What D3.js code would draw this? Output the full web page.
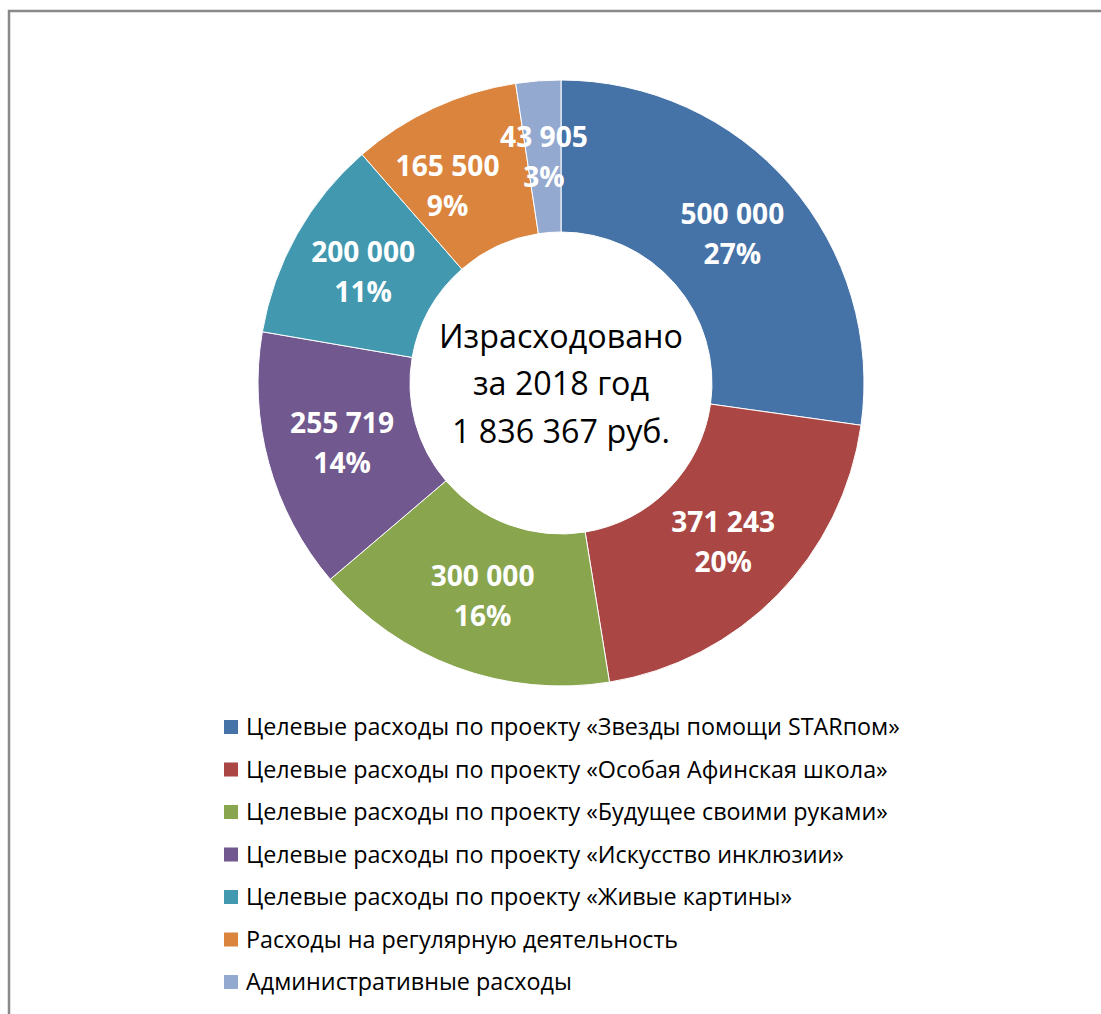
<!DOCTYPE html>
<html><head><meta charset="utf-8">
<script src="https://cdn.jsdelivr.net/npm/d3@7"></script>
<style>body{margin:0;background:#fff}svg{display:block}</style>
</head><body>
<svg id="c" width="1101" height="1014"></svg>
<script>
const categories = [
  "Целевые расходы по проекту «Звезды помощи STARпом»",
  "Целевые расходы по проекту «Особая Афинская школа»",
  "Целевые расходы по проекту «Будущее своими руками»",
  "Целевые расходы по проекту «Искусство инклюзии»",
  "Целевые расходы по проекту «Живые картины»",
  "Расходы на регулярную деятельность",
  "Административные расходы"
];
const values = [500000, 371243, 300000, 255719, 200000, 165500, 43905];
const valueLabels = ["500 000","371 243","300 000","255 719","200 000","165 500","43 905"];
const percentLabels = ["27%","20%","16%","14%","11%","9%","3%"];
const colors = ["#4572A7","#AA4643","#89A54E","#71588F","#4198AF","#DB843D","#93A9CF"];
const centerLines = ["Израсходовано","за 2018 год","1 836 367 руб."];

const svg = d3.select("#c");
const font = "'Open Sans', 'Noto Sans', sans-serif";

svg.append("rect").attr("x",9).attr("y",11).attr("width",1200).attr("height",1200)
  .attr("fill","#fff").attr("stroke","#898989").attr("stroke-width",2.5);

const cx = 561, cy = 383, rOuter = 303, rInner = 151;
const g = svg.append("g").attr("transform",`translate(${cx},${cy})`);
const pie = d3.pie().sort(null).value(d=>d)(values);
const arc = d3.arc().innerRadius(rInner).outerRadius(rOuter);
g.selectAll("path").data(pie).join("path")
  .attr("d",arc).attr("fill",(d,i)=>colors[i])
  .attr("stroke","#fff").attr("stroke-width",1);

const rMid = (rInner+rOuter)/2;
const labels = g.selectAll("g.lab").data(pie).join("g").attr("class","lab");
labels.append("text").attr("class","v").attr("text-anchor","middle").attr("y",-20)
  .attr("dy","0.35em").attr("font-family",font).attr("font-weight","bold")
  .attr("font-size",22).attr("fill","#fff").text((d,i)=>valueLabels[i]);
labels.append("text").attr("class","p").attr("text-anchor","middle").attr("y",20)
  .attr("dy","0.35em").attr("font-family",font).attr("font-weight","bold")
  .attr("font-size",22).attr("fill","#fff").text((d,i)=>percentLabels[i]);
{
  const t = labels.select("text.v").filter((d,i)=>i===0);
  const w = t.node().getComputedTextLength();
  const fs = 22*104/w;
  labels.selectAll("text").attr("font-size",fs);
}
// label placement with simple collision avoidance
const lab = pie.map((d,i)=>{
  const node = labels.nodes()[i];
  const bb = node.getBBox();
  return {a:(d.startAngle+d.endAngle)/2, w:bb.width, h:bb.height};
});
function pos(l){return [rMid*Math.sin(l.a), -rMid*Math.cos(l.a)];}
function overlap(l1,l2){
  const p1=pos(l1), p2=pos(l2);
  return Math.abs(p1[0]-p2[0]) < (l1.w+l2.w)/2 && Math.abs(p1[1]-p2[1]) < (l1.h+l2.h)/2;
}
for (let i=lab.length-1;i>0;i--){
  let guard=0;
  while(overlap(lab[i-1],lab[i]) && guard<200){lab[i-1].a -= 0.005; guard++;}
}
labels.attr("transform",(d,i)=>{const p=pos(lab[i]);return `translate(${p[0]},${p[1]})`;});

const ct = g.selectAll("text.center").data(centerLines).join("text").attr("class","center")
  .attr("text-anchor","middle").attr("x",0).attr("y",(d,i)=>(i-1)*47.5+1).attr("dy","0.35em")
  .attr("font-family",font).attr("font-size",30).attr("fill","#000").text(d=>d);
{
  const t = ct.filter((d,i)=>i===0);
  const w = t.node().getComputedTextLength();
  ct.attr("font-size",30*244/w);
}

const leg = svg.append("g");
const items = leg.selectAll("g").data(categories).join("g")
  .attr("transform",(d,i)=>`translate(224,${727+i*42.5})`);
items.append("rect").attr("x",0).attr("y",-7).attr("width",14).attr("height",14)
  .attr("fill",(d,i)=>colors[i]);
const lt = items.append("text").attr("x",22).attr("y",0).attr("dy","0.35em")
  .attr("font-family",font).attr("font-size",20).attr("fill","#000").text(d=>d);
{
  const t = lt.filter((d,i)=>i===0);
  const w = t.node().getComputedTextLength();
  lt.attr("font-size",20*654/w);
}
</script>
</body></html>
